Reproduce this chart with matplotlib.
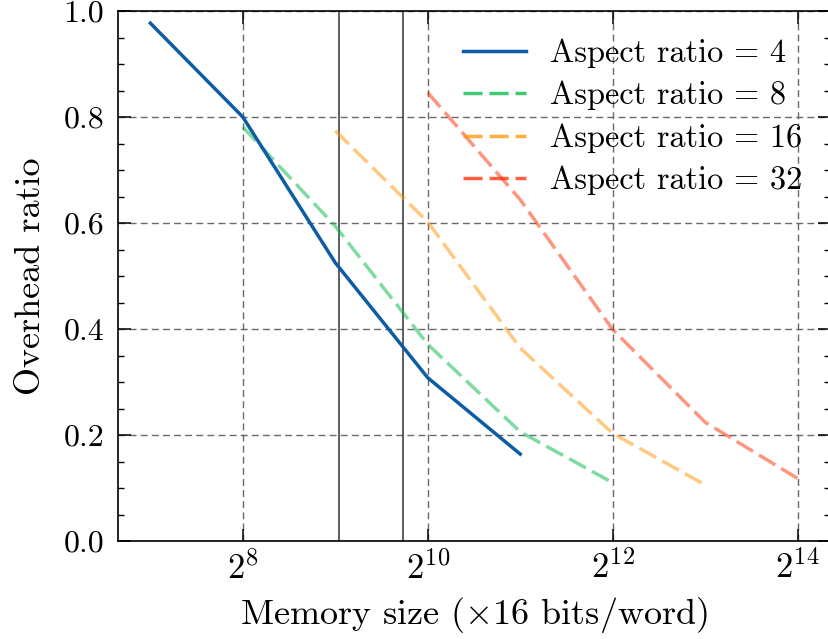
import numpy as np
import matplotlib
matplotlib.use("Agg")
import matplotlib.pyplot as plt

plt.rcParams['font.family'] = ['cmr10', 'DejaVu Serif']
plt.rcParams['mathtext.fontset'] = 'cm'
plt.rcParams['axes.unicode_minus'] = False
plt.rcParams['axes.formatter.use_mathtext'] = True

# ---- data ----
x_ar4 = [2**7, 2**8, 2**9, 2**10, 2**11]
y_ar4 = [0.977, 0.800, 0.525, 0.308, 0.164]
x_ar8 = [2**8, 2**9, 2**10, 2**11, 2**12]
y_ar8 = [0.781, 0.594, 0.371, 0.206, 0.110]
x_ar16 = [2**9, 2**10, 2**11, 2**12, 2**13]
y_ar16 = [0.774, 0.602, 0.364, 0.203, 0.106]
x_ar32 = [2**10, 2**11, 2**12, 2**13, 2**14]
y_ar32 = [0.846, 0.644, 0.399, 0.224, 0.118]
labels = ['Aspect ratio = 4', 'Aspect ratio = 8',
          'Aspect ratio = 16', 'Aspect ratio = 32']
vlines_x = [2**9.04, 2**9.73]
xticks = [2**8, 2**10, 2**12, 2**14]
xtick_labels = [r'$2^{8}$', r'$2^{10}$', r'$2^{12}$', r'$2^{14}$']
yticks = [0.0, 0.2, 0.4, 0.6, 0.8, 1.0]

FS = 23
FSL = 26
FSLEG = 23.3
fig = plt.figure(figsize=(8.29, 6.39), dpi=100)
ax = fig.add_axes([118/829, 1 - 541/639, (830 - 118)/829, (541 - 11)/639])

dash = (5.5, 2.0)
lw = 2.5
l1, = ax.plot(x_ar4, y_ar4, color='#0C5DA5', lw=lw, label=labels[0], zorder=4)
l2, = ax.plot(x_ar8, y_ar8, color='#00B945', lw=lw, ls='--', dashes=dash, alpha=0.5, label=labels[1], zorder=3)
l3, = ax.plot(x_ar16, y_ar16, color='#FF9500', lw=lw, ls='--', dashes=dash, alpha=0.5, label=labels[2], zorder=3)
l4, = ax.plot(x_ar32, y_ar32, color='#FF2C00', lw=lw, ls='--', dashes=dash, alpha=0.5, label=labels[3], zorder=3)

for xv in vlines_x:
    ax.axvline(xv, color='#333333', lw=1.1, zorder=2)

ax.set_xscale('log', base=2)
ax.set_xticks(xticks)
ax.set_xticklabels(xtick_labels)
ax.xaxis.set_minor_locator(matplotlib.ticker.NullLocator())
ax.set_ylim(0, 1.0)
ax.set_yticks(yticks)
ax.set_yticklabels([f'{v:.1f}' for v in yticks])
ax.yaxis.set_minor_locator(matplotlib.ticker.MultipleLocator(0.05))

ax.grid(True, which='major', color='#6a6a6a', ls=(0, (5, 3)), lw=1.0, zorder=1)

ax.tick_params(which='both', direction='in', top=True, right=True)
ax.tick_params(axis='y', labelsize=FS)
ax.tick_params(axis='x', labelsize=25)
ax.tick_params(which='major', length=9, width=1.1)
ax.tick_params(which='minor', length=4.5, width=1.0)
ax.tick_params(axis='y', which='major', pad=10)
ax.tick_params(axis='x', which='major', pad=7)
for s in ax.spines.values():
    s.set_linewidth(1.2)

ax.set_xlabel(r'Memory size ($\times$16 bits/word)', fontsize=FSL, labelpad=7)
ax.set_ylabel('Overhead ratio', fontsize=FSL, labelpad=12)

leg = ax.legend(loc='upper right', frameon=False, fontsize=FSLEG,
                handlelength=1.95, handletextpad=0.75, labelspacing=0.4,
                borderaxespad=0.45)
for ln in leg.get_lines()[1:]:
    ln.set_alpha(0.75)

fig.savefig('out.png', dpi=100)
